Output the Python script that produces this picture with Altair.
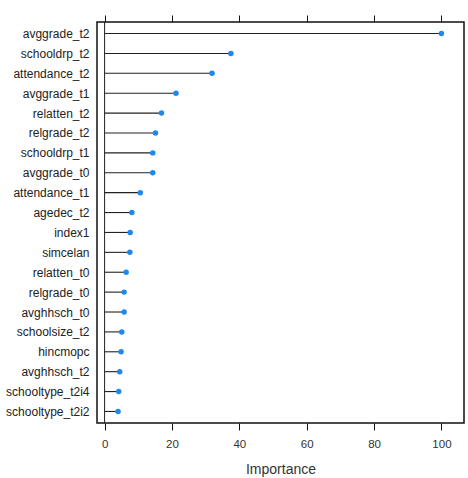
import altair as alt
import pandas as pd

# Variable importance scores, ordered from most to least important
variables = [
    "avggrade_t2", "schooldrp_t2", "attendance_t2", "avggrade_t1", "relatten_t2",
    "relgrade_t2", "schooldrp_t1", "avggrade_t0", "attendance_t1", "agedec_t2",
    "index1", "simcelan", "relatten_t0", "relgrade_t0", "avghhsch_t0",
    "schoolsize_t2", "hincmopc", "avghhsch_t2", "schooltype_t2i4", "schooltype_t2i2",
]
importance = [
    100.0, 37.5, 31.9, 21.2, 16.9,
    15.1, 14.3, 14.3, 10.6, 8.1,
    7.6, 7.5, 6.4, 5.8, 5.8,
    5.1, 4.9, 4.5, 4.2, 4.0,
]
x_ticks = [0, 20, 40, 60, 80, 100]

df = pd.DataFrame({"variable": variables, "importance": importance, "zero": 0.0})

FONT = "Liberation Sans"
x_scale = alt.Scale(domain=[-2.25, 106.7], nice=False, zero=False)
y_scale = alt.Scale(type="point", domain=variables, padding=0.58)

y_axis = alt.Axis(ticks=False, domain=False, grid=False, labelPadding=8,
                  labelFont=FONT, labelFontSize=12, labelColor="#222222")
y_enc = alt.Y("variable:N", sort=variables, scale=y_scale, title=None, axis=y_axis)

# Stems from zero to each score, with the bottom axis
stems = alt.Chart(df).mark_rule(color="#222222", strokeWidth=1.1).encode(
    x=alt.X("zero:Q", scale=x_scale, title="Importance",
            axis=alt.Axis(orient="bottom", values=x_ticks, tickSize=7, tickColor="#111111",
                          tickWidth=1, domain=False, grid=False, labelPadding=8,
                          labelFont=FONT, labelFontSize=11.5, labelColor="#333333",
                          titleFont=FONT, titleFontSize=14, titleFontWeight="normal",
                          titleColor="#333333", titlePadding=13)),
    x2="importance:Q",
    y=y_enc,
)

# Reference line at zero
zero_line = alt.Chart(pd.DataFrame({"v": [0.0]})).mark_rule(
    color="#222222", strokeWidth=1
).encode(x=alt.X("v:Q", scale=x_scale, axis=None))

# Points at each score, with tick marks on the top edge
dots = alt.Chart(df).mark_circle(size=30, color="#1e88f0", opacity=1).encode(
    x=alt.X("importance:Q", scale=x_scale, title=None,
            axis=alt.Axis(orient="top", values=x_ticks, tickSize=7, tickColor="#111111",
                          tickWidth=1, labels=False, domain=False, grid=False)),
    y=y_enc,
)

chart = (
    alt.layer(zero_line, stems, dots)
    .resolve_axis(x="independent")
    .properties(
        width=367, height=401,
        autosize=alt.AutoSizeParams(type="none"),
        padding={"left": 97, "top": 22, "right": 4, "bottom": 55},
        background="white",
    )
    .configure_view(stroke="#111111", strokeWidth=1.5)
)

chart.save("out.html", embed_options={"renderer": "svg", "actions": False})
